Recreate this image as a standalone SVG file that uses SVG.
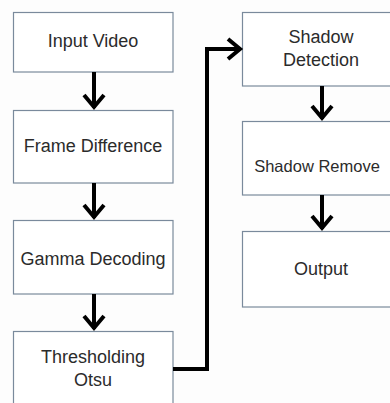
<svg xmlns="http://www.w3.org/2000/svg" width="390" height="403" viewBox="0 0 390 403">
<style>
.box{fill:#ffffff;stroke:#7a8a9c;stroke-width:1.2}
.lbl{font-family:"Liberation Sans",Arial,sans-serif;font-size:18px;fill:#2b2b2b;text-anchor:middle}
.wire{fill:none;stroke:#000000;stroke-width:4}
.head{fill:none;stroke:#000000;stroke-width:4;stroke-linejoin:miter}
</style>
<rect width="390" height="403" fill="#fdfdfd"/>
<g id="n-input"><rect class="box" x="13.5" y="12.5" width="159.5" height="59.5"/><text class="lbl" x="93" y="47">Input Video</text></g>
<g id="n-frame"><rect class="box" x="13.5" y="110.5" width="159.5" height="72.5"/><text class="lbl" x="93" y="152">Frame Difference</text></g>
<g id="n-gamma"><rect class="box" x="13.5" y="220.5" width="159.5" height="73.5"/><text class="lbl" x="93" y="265">Gamma Decoding</text></g>
<g id="n-thresh"><rect class="box" x="13.5" y="331.5" width="159.5" height="80"/><text class="lbl" x="93" y="363">Thresholding</text><text class="lbl" x="93" y="386">Otsu</text></g>
<g id="n-detect"><rect class="box" x="242.5" y="12.5" width="148.5" height="73.5"/><text class="lbl" x="321" y="43">Shadow</text><text class="lbl" x="321" y="66">Detection</text></g>
<g id="n-remove"><rect class="box" x="242.5" y="121.5" width="148.5" height="73.5"/><text class="lbl" x="317" y="172" style="font-size:16.5px">Shadow Remove</text></g>
<g id="n-output"><rect class="box" x="242.5" y="231.5" width="148.5" height="75.5"/><text class="lbl" x="321" y="275">Output</text></g>
<g id="connectors">
<line class="wire" x1="94" y1="72" x2="94" y2="108"/><polyline class="head" points="84,95 94,107 104,95"/>
<line class="wire" x1="94" y1="183" x2="94" y2="218"/><polyline class="head" points="84,205 94,217 104,205"/>
<line class="wire" x1="94" y1="294" x2="94" y2="329"/><polyline class="head" points="84,316 94,328 104,316"/>
<polyline class="wire" points="173,369 207,369 207,49 240,49"/><polyline class="head" points="228,39 240,49 228,59"/>
<line class="wire" x1="322" y1="86" x2="322" y2="119"/><polyline class="head" points="312,106 322,118 332,106"/>
<line class="wire" x1="322" y1="195" x2="322" y2="229"/><polyline class="head" points="312,216 322,228 332,216"/>
</g>
</svg>
